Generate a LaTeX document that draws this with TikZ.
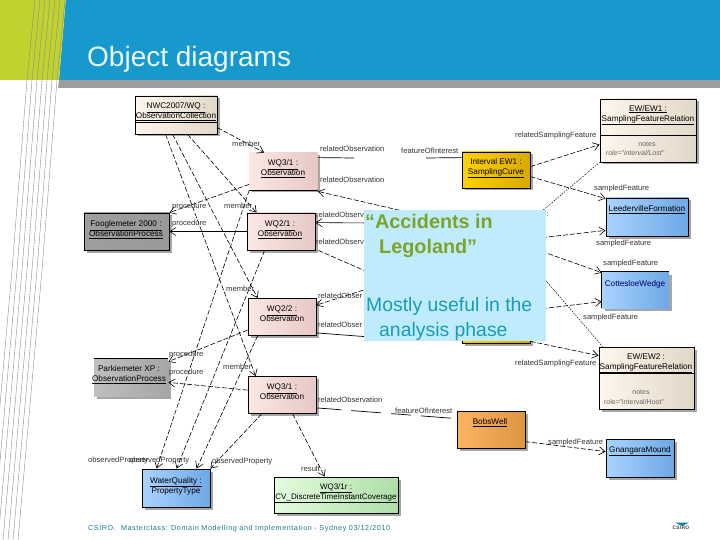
\documentclass[tikz,border=0pt]{standalone}
\usepackage{fontspec}
\setmainfont{Liberation Sans}
\newfontfamily\spacedfont[LetterSpace=4.0]{Liberation Sans}
\newfontfamily\footfont[LetterSpace=8.0]{Liberation Sans}
\usepackage{tikz}
\usetikzlibrary{arrows.meta,shadows}
\definecolor{slideblue}{HTML}{1799CE}
\definecolor{slidegreen}{HTML}{BFD22F}
\definecolor{calloutblue}{HTML}{BFECFD}
\definecolor{headgreen}{HTML}{7FA32A}
\definecolor{bodyteal}{HTML}{1A9BB5}
\definecolor{cream}{HTML}{FDF6EC}
\definecolor{creamdark}{HTML}{E2D8C8}
\definecolor{obslight}{HTML}{FBE8E4}
\definecolor{obsdark}{HTML}{E6C8C5}
\definecolor{bluelight}{HTML}{A9D3FF}
\definecolor{bluedark}{HTML}{6EA8E6}
\definecolor{yellowlight}{HTML}{FFD200}
\definecolor{yellowdark}{HTML}{D9A900}
\definecolor{covlight}{HTML}{E3FBDD}
\definecolor{covdark}{HTML}{AEDFA8}
\definecolor{welllight}{HTML}{FDB462}
\definecolor{welldark}{HTML}{DD9540}
\tikzset{
  objbox/.style={draw=black,line width=0.8pt,drop shadow={shadow xshift=2.5pt,shadow yshift=-2.5pt,fill=black!35,opacity=1},inner sep=0pt},
  creambox/.style={objbox,left color=cream,right color=creamdark},
  obsbox/.style={objbox,minimum width=68,minimum height=37,left color=obslight,right color=obsdark},
  bluebox/.style={objbox,left color=bluelight,right color=bluedark},
  yellowbox/.style={objbox,minimum width=68,minimum height=36,left color=yellowlight,right color=yellowdark},
  txt/.style={inner sep=0pt,align=center,font=\fontsize{8.2}{10}\selectfont},
  notetxt/.style={inner sep=0pt,text=black!60,font=\fontsize{7}{9}\selectfont},
  lab/.style={inner sep=0pt,anchor=west,text=black!80,font=\fontsize{7.6}{9}\selectfont},
  link/.style={line width=0.6pt,dash pattern=on 5pt off 2pt},
  assoc/.style={link,-{Straight Barb[length=6pt,width=8pt]}},
  thin dots/.style={line width=0.5pt,dash pattern=on 1.5pt off 1.2pt},
}
\begin{document}
\begin{tikzpicture}[x=1pt,y=-1pt]
\useasboundingbox (0,0) rectangle (720,540);
% slide header
\fill[slideblue] (65.7,0) -- (720,0) -- (720,80) -- (59,80) -- cycle;
\fill[slidegreen] (0,0) -- (65.7,0) -- (59,80) -- (0,80) -- cycle;
\fill[black!38] (59,80) -- (720,80) -- (720,88) -- (58,88) -- cycle;
\foreach \i in {0,...,6}{\draw[line width=0.4pt,black!45] ({65-5*\i},0) -- ({57-5*\i},80) -- ({42-5*\i},270) -- ({18-5*\i},540);}
\node[anchor=base west,inner sep=0pt,text=cyan!8,font=\fontsize{28}{30}\selectfont] (title) at (87,67) {Object diagrams};
% boxes
\node[creambox,minimum width=82,minimum height=38] (nwc) at (176,115) {};
\node[obsbox,draw=none] (wqa) at (283.5,171.5) {};
\node[obsbox] (wqb) at (281,231.5) {};
\node[obsbox] (wqc) at (282,317) {};
\node[obsbox] (wqd) at (282,395) {};
\node[objbox,minimum width=85,minimum height=37,left color=black!38,middle color=black!22,right color=black!40] (foog) at (126.5,231.5) {};
\node[objbox,draw=none,minimum width=74,minimum height=37,left color=black!25,right color=black!35] (park) at (131,377.5) {};
\node[bluebox,minimum width=68,minimum height=38] (water) at (176,488) {};
\node[objbox,minimum width=124,minimum height=36,left color=covlight,right color=covdark] (cov) at (336,495) {};
\node[yellowbox] (intv) at (496,170) {};
\node[creambox,minimum width=96,minimum height=63] (ewa) at (648,130.5) {};
\node[bluebox,minimum width=82,minimum height=38] (leed) at (647,217) {};
\node[bluebox,draw=none,minimum width=67,minimum height=36] (cott) at (635.5,290) {};
\node[yellowbox] (hid) at (496,325) {};
\node[creambox,minimum width=95,minimum height=62] (ewb) at (646.5,378) {};
\node[objbox,minimum width=68,minimum height=37,left color=welllight,right color=welldark] (bobs) at (491,429.5) {};
\node[bluebox,minimum width=68,minimum height=38] (gnan) at (640,458) {};
% box rules
\draw[line width=0.8pt] (nwc.west |- 0,122) -- (nwc.east |- 0,122);
\draw[line width=0.8pt] (ewa.west |- 0,135) -- (ewa.east |- 0,135);
\draw[line width=0.8pt] (ewb.west |- 0,373) -- (ewb.east |- 0,373);
\draw[line width=0.8pt] (wqa.south west) -- (wqa.south east);
\draw[line width=0.8pt] (park.north west) -- (park.north east);
\draw[line width=0.8pt] (cott.south west) -- (cott.north west) -- (cott.north east);
% box texts
\node[txt] (nwct) at (176,112) {\underline{NWC2007/WQ :}\\\underline{ObservationCollection}};
\node[txt] (wqat) at (283,169) {\underline{WQ3/1 :}\\\underline{Observation}};
\node[txt] (wqbt) at (280,230) {\underline{WQ2/1 :}\\\underline{Observation}};
\node[txt] (wqct) at (282,314) {\underline{WQ2/2 :}\\Observation};
\node[txt] (wqdt) at (282,392) {\underline{WQ3/1 :}\\Observation};
\node[txt] (foogt) at (126,230) {\underline{Fooglemeter 2000 :}\\\underline{ObservationProcess}};
\node[txt] (parkt) at (129,375) {Parkiemeter XP :\\\underline{ObservationProcess}};
\node[txt] (watert) at (176,486) {\underline{WaterQuality :}\\PropertyType};
\node[txt,font=\fontsize{8}{10}\selectfont] (covt) at (336,493) {\underline{WQ3/1r :}\\\underline{CV\_DiscreteTimeInstantCoverage}};
\node[txt] (intvt) at (496,168) {Interval EW1 :\\\underline{SamplingCurve}};
\node[txt] (ewat) at (648,115) {\underline{EW/EW1 :}\\\underline{SamplingFeatureRelation}};
\node[notetxt] (ewan) at (647,144) {notes};
\node[notetxt,font=\fontsize{7}{9}\selectfont\itshape] (ewar) at (635,153) {role="interval/Lost"};
\node[txt] (leedt) at (647,210) {\underline{LeedervilleFormation}};
\node[txt,text=blue!40!black] (cottt) at (635,284) {CottesloeWedge};
\node[txt] (ewbt) at (646,363) {EW/EW2 :\\\underline{SamplingFeatureRelation}};
\node[notetxt] (ewbn) at (641,392) {notes};
\node[notetxt] (ewbr) at (634,402) {role="interval/Hoot"};
\node[txt] (bobst) at (490,423) {\underline{BobsWell}};
\node[txt] (gnant) at (640,451) {\underline{GnangaraMound}};
% free ends behind the callout
\coordinate (ua) at (354,158);
\coordinate (ub) at (426,158);
\coordinate (uc) at (420,215);
\coordinate (ud) at (370,223);
\coordinate (ue) at (370,273);
\coordinate (uf) at (370,288);
\coordinate (ug) at (370,337);
\coordinate (uh) at (535,217);
\coordinate (ui) at (535,238.4);
\coordinate (uj) at (535,249);
\coordinate (uk) at (535,309.5);
\coordinate (ul) at (535,268);
% member links
\draw[assoc] ([yshift=-32]nwc.north east) -- ([xshift=15]wqa.north west);
\draw[assoc] ([xshift=53]nwc.south west) -- ([xshift=10]wqb.north west);
\draw[assoc] ([xshift=38]nwc.south west) -- ([xshift=10]wqc.north west);
\draw[assoc] ([xshift=31]nwc.south west) -- ([xshift=8]wqd.north west);
% procedure links
\draw[assoc] ([yshift=6]wqa.south west) -- (foog.north east);
\draw[assoc,solid] (wqb.west) -- (foog.east);
\draw[assoc] ([yshift=-32]wqc.north west) -- ([yshift=-3]park.north east);
\draw[assoc] ([yshift=-14]wqd.north west) -- ([yshift=14]park.south east);
% observed property links
\draw[assoc] (wqa.south west) -- ([xshift=15]water.north west);
\draw[assoc] ([xshift=18]wqb.south west) -- ([xshift=35]water.north west);
\draw[assoc] ([xshift=10]wqc.south west) -- ([xshift=55]water.north west);
\draw[assoc] ([xshift=14]wqd.south west) -- (water.north east);
\draw[assoc] ([xshift=45]wqd.south west) -- ([xshift=51]cov.north west);
% related observation links
\draw[line width=0.7pt] ([yshift=-5]wqa.north east) -- (ua);
\draw[line width=0.7pt] (ub) -- ([yshift=-6]intv.north west);
\draw[assoc] (uc) -- ([yshift=-1]wqa.south east);
\draw[assoc,solid] (ud) -- ([yshift=-10]wqb.north east);
\draw[link] ([xshift=3]wqb.south east) -- (ue);
\draw[assoc] (uf) -- ([yshift=-7]wqc.north east);
\draw[line width=0.7pt] ([yshift=3]wqc.south east) -- (ug);
\draw[line width=0.7pt,dash pattern=on 25pt off 10pt on 30pt off 10pt on 20pt off 10pt on 30pt] ([yshift=6]wqd.south east) -- ([yshift=-8]bobs.north west);
% sampling links
\draw[assoc] ([yshift=-15]intv.north east) -- ([yshift=-46]ewa.north west);
\draw[assoc] ([yshift=-25]intv.north east) -- ([yshift=-1]leed.north west);
\draw[thin dots] (uh) -- (ewa.south west);
\draw[assoc] (ui) -- ([yshift=6]leed.south west);
\draw[assoc] (uj) -- ([yshift=-1]cott.north west);
\draw[assoc] (uk) -- ([yshift=-30]cott.north west);
\draw[thin dots] (ul) -- ([xshift=4]ewb.north west);
\draw[assoc] ([yshift=2]hid.south east) -- ([yshift=-9]ewb.north west);
\draw[assoc] ([yshift=-31]bobs.north east) -- ([yshift=-13]gnan.north west);
% labels
\node[lab] (ma) at (232,144) {member};
\node[lab] (mb) at (224,206) {member};
\node[lab] (mc) at (226,289) {member};
\node[lab] (md) at (223,367) {member};
\node[lab] (pa) at (172,207) {procedure};
\node[lab] (pb) at (172,224) {procedure};
\node[lab] (pc) at (169,355) {procedure};
\node[lab] (pd) at (169,373) {procedure};
\node[lab] (oa) at (88,461) {observedProperty};
\node[lab] (ob) at (129,461) {observedProperty};
\node[lab] (oc) at (212,462) {observedProperty};
\node[lab] (res) at (301,469) {result};
\node[lab] (ra) at (320,149) {relatedObservation};
\node[lab] (rb) at (320,180) {relatedObservation};
\node[lab] (rc) at (316,215) {relatedObserv};
\node[lab] (rd) at (316,242) {relatedObserv};
\node[lab] (re) at (318,296) {relatedObser};
\node[lab] (rf) at (318,325) {relatedObser};
\node[lab] (rg) at (318,400) {relatedObservation};
\node[lab] (fa) at (401,151) {featureOfInterest};
\node[lab] (fb) at (395,411) {featureOfInterest};
\node[lab] (sa) at (515,136) {relatedSamplingFeature};
\node[lab] (sb) at (546.5,214) {:};
\node[lab] (sc) at (515,364) {relatedSamplingFeature};
\node[lab] (ta) at (594,189) {sampledFeature};
\node[lab] (tb) at (596,244) {sampledFeature};
\node[lab] (tc) at (603,264) {sampledFeature};
\node[lab] (td) at (583,318) {sampledFeature};
\node[lab] (te) at (548,443) {sampledFeature};
% callout
\fill[calloutblue] (364,210) rectangle (546,341);
\node[anchor=base west,inner sep=0pt,text=headgreen,font=\fontsize{19.8}{22}\selectfont\bfseries] (heada) at (365,229) {“Accidents in};
\node[anchor=base west,inner sep=0pt,text=headgreen,font=\fontsize{19.8}{22}\selectfont\bfseries] (headb) at (379,253) {Legoland”};
\node[anchor=base west,inner sep=0pt,text=bodyteal,font=\fontsize{19.4}{22}\selectfont] (bodya) at (366,311) {Mostly useful in the};
\node[anchor=base west,inner sep=0pt,text=bodyteal,font=\fontsize{19.4}{22}\selectfont] (bodyb) at (379,336) {analysis phase};
% footer
\node[anchor=base west,inner sep=0pt,text=bodyteal!80!black,font=\fontsize{7.2}{9}\selectfont\footfont] (foot) at (88,530) {CSIRO.\ \ Masterclass: Domain Modelling and Implementation - Sydney 03/12/2010};
\fill[slideblue!80!black] (675,522.5) -- (689,522.5) -- (682,526) -- cycle;
\node[inner sep=0pt,text=black!70,font=\fontsize{5}{6}\selectfont\bfseries\spacedfont] (logo) at (681,528) {CSIRO};
\end{tikzpicture}
\end{document}
